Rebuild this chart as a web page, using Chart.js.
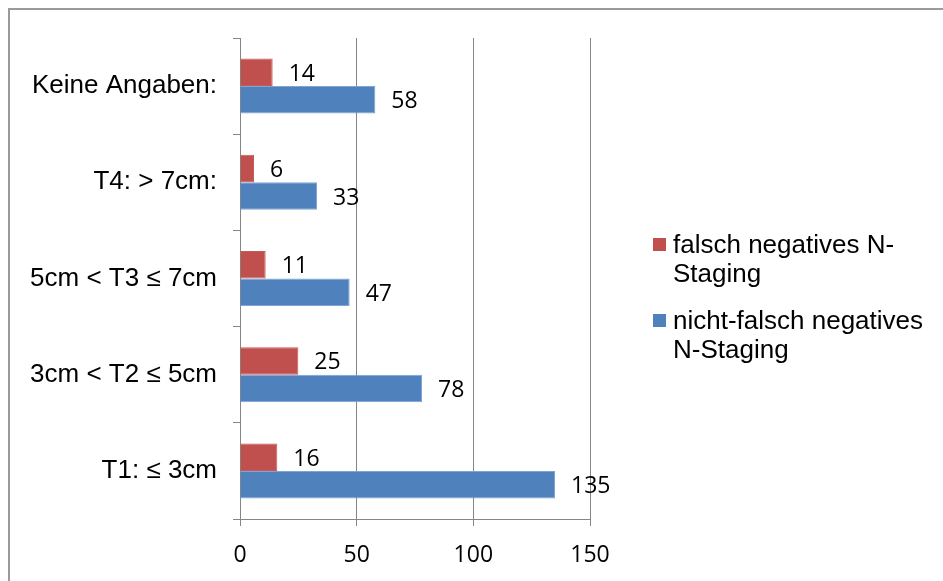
<!DOCTYPE html>
<html>
<head>
<meta charset="utf-8">
<script src="https://cdn.jsdelivr.net/npm/chart.js@4"></script>
<style>
  html, body { margin: 0; padding: 0; background: #fff; }
  #wrap { position: relative; width: 943px; height: 581px; overflow: hidden; }
  #frame {
    position: absolute; left: 8px; top: 8px; width: 960px; height: 600px;
    border-top: 2px solid #9a9a9a; border-left: 2px solid #9a9a9a;
  }
  canvas { position: absolute; left: 0; top: 0; }
  .legend-item {
    position: absolute; left: 653px; width: 280px;
    font-family: "Liberation Sans", Arial, sans-serif; font-size: 26px; line-height: 29px; color: #000;
  }
  .legend-item .box { position: absolute; left: 0; top: 8px; width: 13px; height: 13px; }
  .legend-item .txt { margin-left: 20px; }
</style>
</head>
<body>
<div id="wrap">
  <div id="frame"></div>
  <canvas id="chart" width="943" height="581"></canvas>
  <div id="legend"></div>
</div>
<script>
const categories = ['Keine Angaben:', 'T4: > 7cm:', '5cm < T3 \u2264 7cm', '3cm < T2 \u2264 5cm', 'T1: \u2264 3cm'];
const falschNegativ = [14, 6, 11, 25, 16];
const nichtFalschNegativ = [58, 33, 47, 78, 135];
const xTicks = [0, 50, 100, 150];
const seriesNames = [['falsch negatives N-', 'Staging'], ['nicht-falsch negatives', 'N-Staging']];
const seriesColors = ['#C0504D', '#4F81BD'];
const seriesBorders = ['#C65A57', '#7FA3D3'];

const axisGray = '#868686';

// value labels to the right of each bar end
const valueLabels = {
  id: 'valueLabels',
  afterDatasetsDraw(chart) {
    const ctx = chart.ctx;
    ctx.save();
    ctx.font = '23px "Open Sans", sans-serif';
    ctx.fillStyle = '#000';
    ctx.textAlign = 'left';
    ctx.textBaseline = 'middle';
    chart.data.datasets.forEach((ds, i) => {
      chart.getDatasetMeta(i).data.forEach((bar, j) => {
        ctx.fillText(String(ds.data[j]), bar.x + 16, bar.y + 2);
      });
    });
    ctx.restore();
  }
};

new Chart(document.getElementById('chart'), {
  type: 'bar',
  data: {
    labels: categories,
    datasets: [
      {
        label: seriesNames[0].join(' '),
        data: falschNegativ,
        backgroundColor: seriesColors[0],
        borderColor: seriesBorders[0],
        borderWidth: 1
      },
      {
        label: seriesNames[1].join(' '),
        data: nichtFalschNegativ,
        backgroundColor: seriesColors[1],
        borderColor: seriesBorders[1],
        borderWidth: 1
      }
    ]
  },
  options: {
    indexAxis: 'y',
    responsive: false,
    animation: false,
    events: [],
    datasets: { bar: { categoryPercentage: 0.572, barPercentage: 1.0 } },
    layout: { padding: { left: 0, right: 353, top: 38, bottom: 0 } },
    plugins: {
      legend: { display: false },
      tooltip: { enabled: false }
    },
    scales: {
      x: {
        min: 0,
        max: 150,
        afterBuildTicks: (scale) => { scale.ticks = xTicks.map(v => ({ value: v })); },
        afterFit: (scale) => { scale.height = 62; },
        grid: { color: axisGray, lineWidth: 1, tickLength: 7, drawOnChartArea: true },
        border: { display: true, color: axisGray, width: 1 },
        ticks: {
          color: '#000',
          padding: 16,
          maxRotation: 0,
          font: { family: '"Open Sans", sans-serif', size: 23 }
        }
      },
      y: {
        afterFit: (scale) => { scale.width = 240; },
        grid: { color: axisGray, lineWidth: 1, tickLength: 7, drawOnChartArea: false, offset: true },
        border: { display: true, color: axisGray, width: 1 },
        ticks: {
          color: '#000',
          padding: 16,
          font: { family: '"Liberation Sans", Arial, sans-serif', size: 26 }
        }
      }
    }
  },
  plugins: [valueLabels]
});

// legend with wrapped series names
const legend = document.getElementById('legend');
seriesNames.forEach((lines, i) => {
  const item = document.createElement('div');
  item.className = 'legend-item';
  item.style.top = (230 + i * 76) + 'px';
  const box = document.createElement('div');
  box.className = 'box';
  box.style.background = seriesColors[i];
  const txt = document.createElement('div');
  txt.className = 'txt';
  txt.innerHTML = lines.join('<br>');
  item.appendChild(box);
  item.appendChild(txt);
  legend.appendChild(item);
});
</script>
</body>
</html>
